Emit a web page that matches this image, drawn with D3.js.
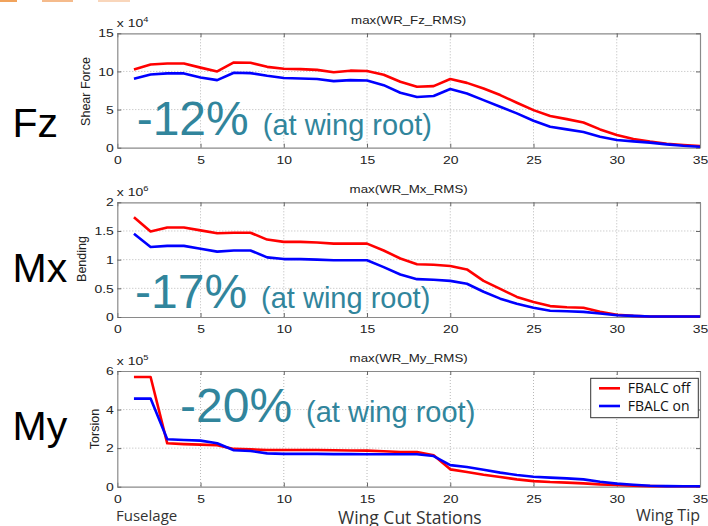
<!DOCTYPE html>
<html>
<head>
<meta charset="utf-8">
<script src="https://cdn.jsdelivr.net/npm/d3@7"></script>
<style>
  body { margin: 0; background: #fff; }
  svg { display: block; }
</style>
</head>
<body>
<svg id="chart" width="708" height="526"></svg>
<script>
// Wing cut stations (fuselage -> tip)
const stations = [1,2,3,4,5,6,7,8,9,10,11,12,13,14,15,16,17,18,19,20,21,22,23,24,25,26,27,28,29,30,31,32,33,34,35];

// Shear force Fz (x 10^4)
const fzOff = [10.26,10.9,11.05,11.05,10.5,10.0,11.18,11.13,10.6,10.35,10.3,10.2,9.9,10.1,10.05,9.56,8.65,8.0,8.08,9.0,8.5,7.77,6.9,5.9,4.93,4.15,3.75,3.3,2.4,1.66,1.13,0.8,0.52,0.35,0.22];
const fzOn  = [9.04,9.6,9.74,9.74,9.2,8.86,9.83,9.78,9.43,9.13,9.08,9.0,8.73,8.86,8.82,8.2,7.2,6.64,6.77,7.7,7.1,6.24,5.37,4.5,3.54,2.75,2.4,2.05,1.44,1.0,0.83,0.66,0.44,0.26,0.13];

// Bending moment Mx (x 10^6)
const mxOff = [1.74,1.49,1.56,1.56,1.51,1.46,1.47,1.47,1.35,1.31,1.31,1.30,1.28,1.28,1.28,1.16,1.02,0.92,0.91,0.89,0.83,0.63,0.49,0.35,0.26,0.19,0.17,0.16,0.09,0.04,0.02,0.01,0.01,0.01,0.01];
const mxOn  = [1.45,1.22,1.24,1.24,1.19,1.14,1.16,1.16,1.04,1.01,1.01,1.0,0.99,0.99,0.99,0.87,0.74,0.66,0.65,0.63,0.58,0.44,0.32,0.23,0.16,0.11,0.10,0.09,0.06,0.03,0.02,0.01,0.01,0.01,0.01];

// Torsion My (x 10^5)
const myOff = [5.69,5.69,2.25,2.21,2.18,2.15,1.96,1.94,1.9,1.9,1.9,1.9,1.89,1.88,1.87,1.84,1.8,1.8,1.63,0.9,0.76,0.62,0.5,0.38,0.29,0.24,0.21,0.17,0.12,0.09,0.05,0.03,0.02,0.02,0.02];
const myOn  = [4.57,4.57,2.46,2.42,2.39,2.25,1.89,1.85,1.73,1.70,1.70,1.70,1.69,1.69,1.68,1.68,1.68,1.68,1.59,1.12,1.02,0.88,0.73,0.61,0.52,0.47,0.43,0.38,0.26,0.16,0.1,0.05,0.03,0.02,0.02];

const xTicks = [0,5,10,15,20,25,30,35];
const fzTicks = [0,5,10,15];
const mxTicks = [0,0.5,1,1.5,2];
const myTicks = [0,2,4,6];

const seriesNames = ["FBALC off", "FBALC on"];
const seriesColors = ["#ff0000", "#0000ff"];

const panels = [
  { name: "Fz", title: "max(WR_Fz_RMS)", ylabel: "Shear Force", exp: "4",
    series: [fzOff, fzOn], ticks: fzTicks, domain: [0, 15],
    top: 33.3, bottom: 147.7, pct: "-12%", pctX: 136.7, pctY: 135,
    nameY: 137, ylabelX: 90, ylabelY: 91.5 },
  { name: "Mx", title: "max(WR_Mx_RMS)", ylabel: "Bending", exp: "6",
    series: [mxOff, mxOn], ticks: mxTicks, domain: [0, 2],
    top: 202.3, bottom: 317, pct: "-17%", pctX: 135, pctY: 307.7,
    nameY: 282, ylabelX: 86, ylabelY: 259 },
  { name: "My", title: "max(WR_My_RMS)", ylabel: "Torsion", exp: "5",
    series: [myOff, myOn], ticks: myTicks, domain: [0, 6],
    top: 371, bottom: 486.7, pct: "-20%", pctX: 180, pctY: 421.7,
    nameY: 440, ylabelX: 98.5, ylabelY: 429, legend: true }
];

const svg = d3.select("#chart");
const left = 117.3, right = 700;
const SX = 1.33;              // horizontal stretch of the plot lettering
const axisFont = "'Liberation Sans', Arial, sans-serif";
const tickFmt = d3.format("~g");

// slide accent strips along the top edge
const accents = [[0, 17, "#f1a35c"], [42, 31, "#f5bb8c"], [98, 32, "#f9d6bb"]];
svg.selectAll("rect.accent").data(accents).join("rect")
  .attr("class", "accent")
  .attr("x", d => d[0]).attr("y", 0).attr("width", d => d[1]).attr("height", 2)
  .attr("fill", d => d[2]);

const x = d3.scaleLinear().domain([0, 35]).range([left, right]);

panels.forEach(p => {
  const y = d3.scaleLinear().domain(p.domain).range([p.bottom, p.top]);
  const g = svg.append("g");

  // dotted grid
  g.append("g").selectAll("line").data(xTicks.slice(1, -1)).join("line")
    .attr("x1", d => x(d)).attr("x2", d => x(d))
    .attr("y1", p.top).attr("y2", p.bottom)
    .attr("stroke", "#b8b8b8").attr("stroke-width", 1).attr("stroke-dasharray", "1,2");
  g.append("g").selectAll("line").data(p.ticks.slice(1, -1)).join("line")
    .attr("y1", d => y(d)).attr("y2", d => y(d))
    .attr("x1", left).attr("x2", right)
    .attr("stroke", "#b8b8b8").attr("stroke-width", 1).attr("stroke-dasharray", "1,2");

  // axes with inward ticks
  const ax = g.append("g").attr("transform", `translate(0,${p.bottom})`)
    .call(d3.axisBottom(x).tickValues(xTicks).tickSize(-4).tickSizeOuter(0).tickFormat(tickFmt));
  const axTop = g.append("g").attr("transform", `translate(0,${p.top})`)
    .call(d3.axisTop(x).tickValues(xTicks).tickSize(-4).tickSizeOuter(0).tickFormat(""));
  const ay = g.append("g").attr("transform", `translate(${left},0)`)
    .call(d3.axisLeft(y).tickValues(p.ticks).tickSize(-4).tickSizeOuter(0).tickFormat(tickFmt));
  const ayR = g.append("g").attr("transform", `translate(${right},0)`)
    .call(d3.axisRight(y).tickValues(p.ticks).tickSize(-4).tickSizeOuter(0).tickFormat(""));

  [ax, axTop, ay, ayR].forEach(a => {
    a.select(".domain").attr("stroke", "#8a8a8a").attr("stroke-width", 1.2);
    a.selectAll(".tick line").attr("stroke", "#666");
  });

  ax.selectAll(".tick text")
    .attr("y", 16).attr("dy", 0)
    .attr("transform", `scale(${SX},1)`)
    .attr("font-family", axisFont).attr("font-size", 10.5).attr("fill", "#222");
  ay.selectAll(".tick text")
    .attr("x", -3.5 / SX).attr("dy", "0.35em")
    .attr("transform", `scale(${SX},1)`)
    .attr("font-family", axisFont).attr("font-size", 10.5).attr("fill", "#222");

  // multiplier label
  const mult = g.append("text")
    .attr("transform", `translate(${left - 0.5},${p.top - 6.5}) scale(${SX},1)`)
    .attr("font-family", axisFont).attr("font-size", 10.5).attr("fill", "#222");
  mult.append("tspan").text("x 10");
  mult.append("tspan").attr("dy", -5).attr("font-size", 7).text(p.exp);

  // title
  g.append("text")
    .attr("transform", `translate(${(left + right) / 2},${p.top - 9.5}) scale(${SX},1)`)
    .attr("text-anchor", "middle")
    .attr("font-family", axisFont).attr("font-size", 10).attr("fill", "#222")
    .text(p.title);

  // y label
  g.append("text")
    .attr("transform", `translate(${p.ylabelX},${p.ylabelY}) rotate(-90)`)
    .attr("text-anchor", "middle")
    .attr("font-family", axisFont).attr("font-size", 12.5).attr("fill", "#222")
    .text(p.ylabel);

  // load curves
  const line = d3.line().x((d, i) => x(stations[i])).y(d => y(d));
  g.append("g").selectAll("path").data(p.series).join("path")
    .attr("d", line)
    .attr("fill", "none")
    .attr("stroke", (d, i) => seriesColors[i])
    .attr("stroke-width", 2.6)
    .attr("stroke-linejoin", "round");

  // quantity name
  svg.append("text")
    .attr("x", 12.5).attr("y", p.nameY)
    .attr("font-family", axisFont).attr("font-size", 41).attr("fill", "#000")
    .text(p.name);

  // reduction callout
  const t = svg.append("text")
    .attr("x", p.pctX).attr("y", p.pctY)
    .attr("font-family", axisFont).attr("fill", "#31859c");
  t.append("tspan").attr("font-size", 48).text(p.pct);
  t.append("tspan").attr("dx", 14).attr("font-size", 29).text("(at wing root)");

  if (p.legend) {
    const lg = svg.append("g");
    lg.append("rect")
      .attr("x", 590.7).attr("y", 378.3).attr("width", 107.6).attr("height", 39.4)
      .attr("fill", "#fff").attr("stroke", "#333").attr("stroke-width", 1);
    seriesNames.forEach((n, i) => {
      const cy = 388.3 + i * 17.7;
      lg.append("line").attr("x1", 599).attr("x2", 620).attr("y1", cy).attr("y2", cy)
        .attr("stroke", seriesColors[i]).attr("stroke-width", 2.6);
      lg.append("text").attr("x", 627.7).attr("y", cy + 5)
        .attr("font-family", "'Open Sans', sans-serif").attr("font-size", 14).attr("fill", "#111")
        .text(n);
    });
  }
});

// station axis annotations
const bottomFont = "'Open Sans', sans-serif";
svg.append("text").attr("x", 116).attr("y", 520.5)
  .attr("font-family", bottomFont).attr("font-size", 15).attr("fill", "#333").text("Fuselage");
svg.append("text").attr("x", 338).attr("y", 523.5)
  .attr("font-family", bottomFont).attr("font-size", 17.5).attr("fill", "#333").text("Wing Cut Stations");
svg.append("text").attr("x", 700).attr("y", 520.5).attr("text-anchor", "end")
  .attr("font-family", bottomFont).attr("font-size", 16).attr("fill", "#333").text("Wing Tip");
</script>
</body>
</html>
